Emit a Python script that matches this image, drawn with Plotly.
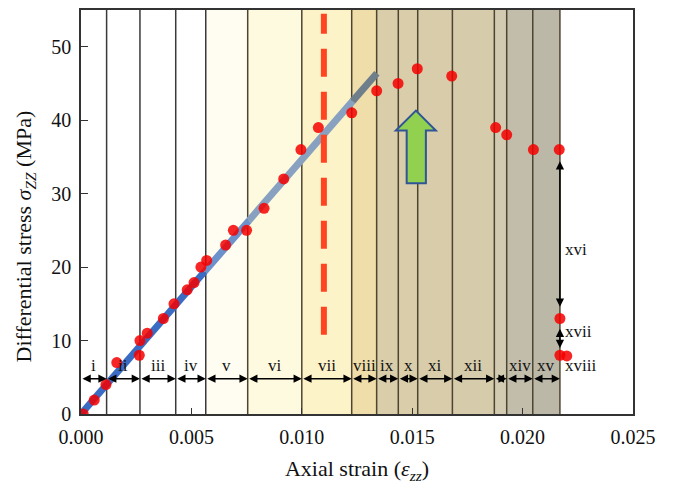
import plotly.graph_objects as go

# Measured stress-strain points
strain = [0.0001, 0.0006, 0.00113, 0.00162, 0.00264, 0.00267, 0.00300, 0.00373,
          0.00421, 0.00481, 0.00512, 0.00543, 0.00569, 0.00655, 0.00690, 0.00750,
          0.00829, 0.00918, 0.00996, 0.01075, 0.01226, 0.01339, 0.01436, 0.01523,
          0.01679, 0.01878, 0.01928, 0.02049, 0.02166, 0.02169, 0.02169, 0.02200]
stress = [0.0, 1.9, 4.0, 7.0, 8.0, 10.0, 11.0, 13.0,
          15.0, 16.9, 17.9, 20.0, 20.9, 23.0, 25.0, 25.0,
          28.0, 32.0, 36.0, 39.0, 41.0, 44.0, 45.0, 47.0,
          46.0, 39.0, 38.0, 36.0, 36.0, 13.0, 8.0, 7.9]

# Stage boundaries along the strain axis and stage names
bounds = [0, 0.00116, 0.00267, 0.00429, 0.00565, 0.00755, 0.0100, 0.01226,
          0.01339, 0.01437, 0.01525, 0.01682, 0.01872, 0.01928, 0.02046, 0.02169]
stage_names = ["i", "ii", "iii", "iv", "v", "vi", "vii", "viii", "ix", "x",
               "xi", "xii", "", "xiv", "xv"]
stage_fill = ["#ffffff", "#ffffff", "#ffffff", "#ffffff", "#fffdf1", "#fefadf",
              "#fdf3c9", "#efddaa", "#d9cdaa", "#d9cdaa", "#d8ccaa", "#d6cbaa",
              "#d2cbb2", "#c1bdaa", "#bbb8a8"]

# Post-peak drops at the final strain
drop_strain = 0.02169
drop_levels = [36.0, 13.0, 8.0]
drop_names = ["xvi", "xvii", "xviii"]

# Linear elastic fit
fit_strain_end = 0.0134
fit_stress_end = 46.4
fit_breaks = [0.0, 0.0056, 0.0076, 0.0123, 0.0134]
fit_colors = ["#3b6cc4", "#6c91cb", "#88a1c0", "#6f7e8b"]

# Yield marker strain
yield_strain = 0.0110

YMAX = 55
slope = fit_stress_end / fit_strain_end
serif = "Liberation Serif"

fig = go.Figure()

shapes = []
for i in range(len(stage_names)):
    shapes.append(dict(type="rect", xref="x", yref="y", x0=bounds[i], x1=bounds[i + 1],
                       y0=0, y1=YMAX, fillcolor=stage_fill[i], line=dict(width=0),
                       layer="below"))
for b in bounds[1:]:
    col = "#3a3a3a" if b < 0.007 else "#4d4530"
    shapes.append(dict(type="line", xref="x", yref="y", x0=b, x1=b, y0=0, y1=YMAX,
                       line=dict(color=col, width=1.5), layer="below"))

# Green upward arrow
tip = (0.01517, 41.3)
head_y = 38.6
hx0, hx1 = 0.01426, 0.01607
sx0, sx1 = 0.01475, 0.01562
base_y = 31.4
path = (f"M {tip[0]},{tip[1]} L {hx1},{head_y} L {sx1},{head_y} L {sx1},{base_y} "
        f"L {sx0},{base_y} L {sx0},{head_y} L {hx0},{head_y} Z")
shapes.append(dict(type="path", xref="x", yref="y", path=path, fillcolor="#92d050",
                   line=dict(color="#2f5597", width=2), layer="above"))

# Fit line drawn in shaded segments
for i in range(len(fit_colors)):
    xa, xb = fit_breaks[i], fit_breaks[i + 1]
    fig.add_trace(go.Scatter(x=[xa, xb], y=[slope * xa, slope * xb], mode="lines",
                             line=dict(color=fit_colors[i], width=7), showlegend=False,
                             hoverinfo="skip"))

# Yield line
fig.add_trace(go.Scatter(x=[yield_strain, yield_strain], y=[10.8, 54.5], mode="lines",
                         line=dict(color="#ff4422", width=6, dash="28px,15px"),
                         showlegend=False, hoverinfo="skip"))

fig.add_trace(go.Scatter(x=strain, y=stress, mode="markers",
                         marker=dict(color="rgba(245,0,0,0.85)", size=11),
                         showlegend=False))

annotations = []
arrow_y = 4.8
for i, name in enumerate(stage_names):
    a, b = bounds[i], bounds[i + 1]
    annotations.append(dict(x=b, y=arrow_y, ax=a, ay=arrow_y, xref="x", yref="y",
                            axref="x", ayref="y", text="", showarrow=True,
                            arrowhead=2, startarrowhead=2, arrowside="end+start",
                            arrowsize=1.1, startarrowsize=1.1, arrowwidth=1.5,
                            arrowcolor="#000000", standoff=0, startstandoff=0))
    if name:
        annotations.append(dict(x=(a + b) / 2, y=6.6, xref="x", yref="y", text=name,
                                showarrow=False, font=dict(family=serif, size=17,
                                                           color="#111111")))

# Vertical drop arrows
drop_tips = [(34.6, 14.6), (11.8, 9.0)]
for (top, bot) in drop_tips:
    annotations.append(dict(x=drop_strain, y=bot, ax=drop_strain, ay=top, xref="x",
                            yref="y", axref="x", ayref="y", text="", showarrow=True,
                            arrowhead=2, startarrowhead=2, arrowside="end+start",
                            arrowsize=1.1, startarrowsize=1.1, arrowwidth=1.5,
                            arrowcolor="#000000", standoff=0, startstandoff=0))
drop_label_y = [22.4, 11.2, 6.6]
for name, yv in zip(drop_names, drop_label_y):
    annotations.append(dict(x=drop_strain + 0.00012, y=yv, xref="x", yref="y", text=name,
                            showarrow=False, xanchor="left",
                            font=dict(family=serif, size=17, color="#111111")))

# Y-axis title, placed a little below the plot's mid-height
annotations.append(dict(x=-0.101, y=0.44, xref="paper", yref="paper",
                        text="Differential stress <i>σ<sub>ZZ</sub></i> (MPa)",
                        textangle=-90, showarrow=False, xanchor="center",
                        yanchor="middle", font=dict(family=serif, size=22,
                                                    color="#111111")))

fig.update_layout(
    width=676, height=485,
    margin=dict(l=81, r=43, t=8, b=70),
    paper_bgcolor="white", plot_bgcolor="white",
    shapes=shapes, annotations=annotations,
    font=dict(family=serif, size=20, color="#111111"),
    xaxis=dict(range=[0, 0.025], tickvals=[0, 0.005, 0.010, 0.015, 0.020, 0.025],
               ticktext=["0.000", "0.005", "0.010", "0.015", "0.020", "0.025"],
               ticks="inside", ticklen=6, tickcolor="#333", showgrid=False,
               zeroline=False, showline=True, linecolor="#333", linewidth=1.5,
               mirror=True, ticklabelstandoff=4,
               title=dict(text="Axial strain (<i>ε<sub>zz</sub></i>)", standoff=14,
                          font=dict(family=serif, size=22))),
    yaxis=dict(range=[0, YMAX], tickvals=[0, 10, 20, 30, 40, 50], ticks="inside",
               ticklen=7, tickcolor="#333", showgrid=False, zeroline=False,
               showline=True, linecolor="#333", linewidth=1.5, mirror=True,
               ticklabelstandoff=4),
)

fig.write_html("out.html")
